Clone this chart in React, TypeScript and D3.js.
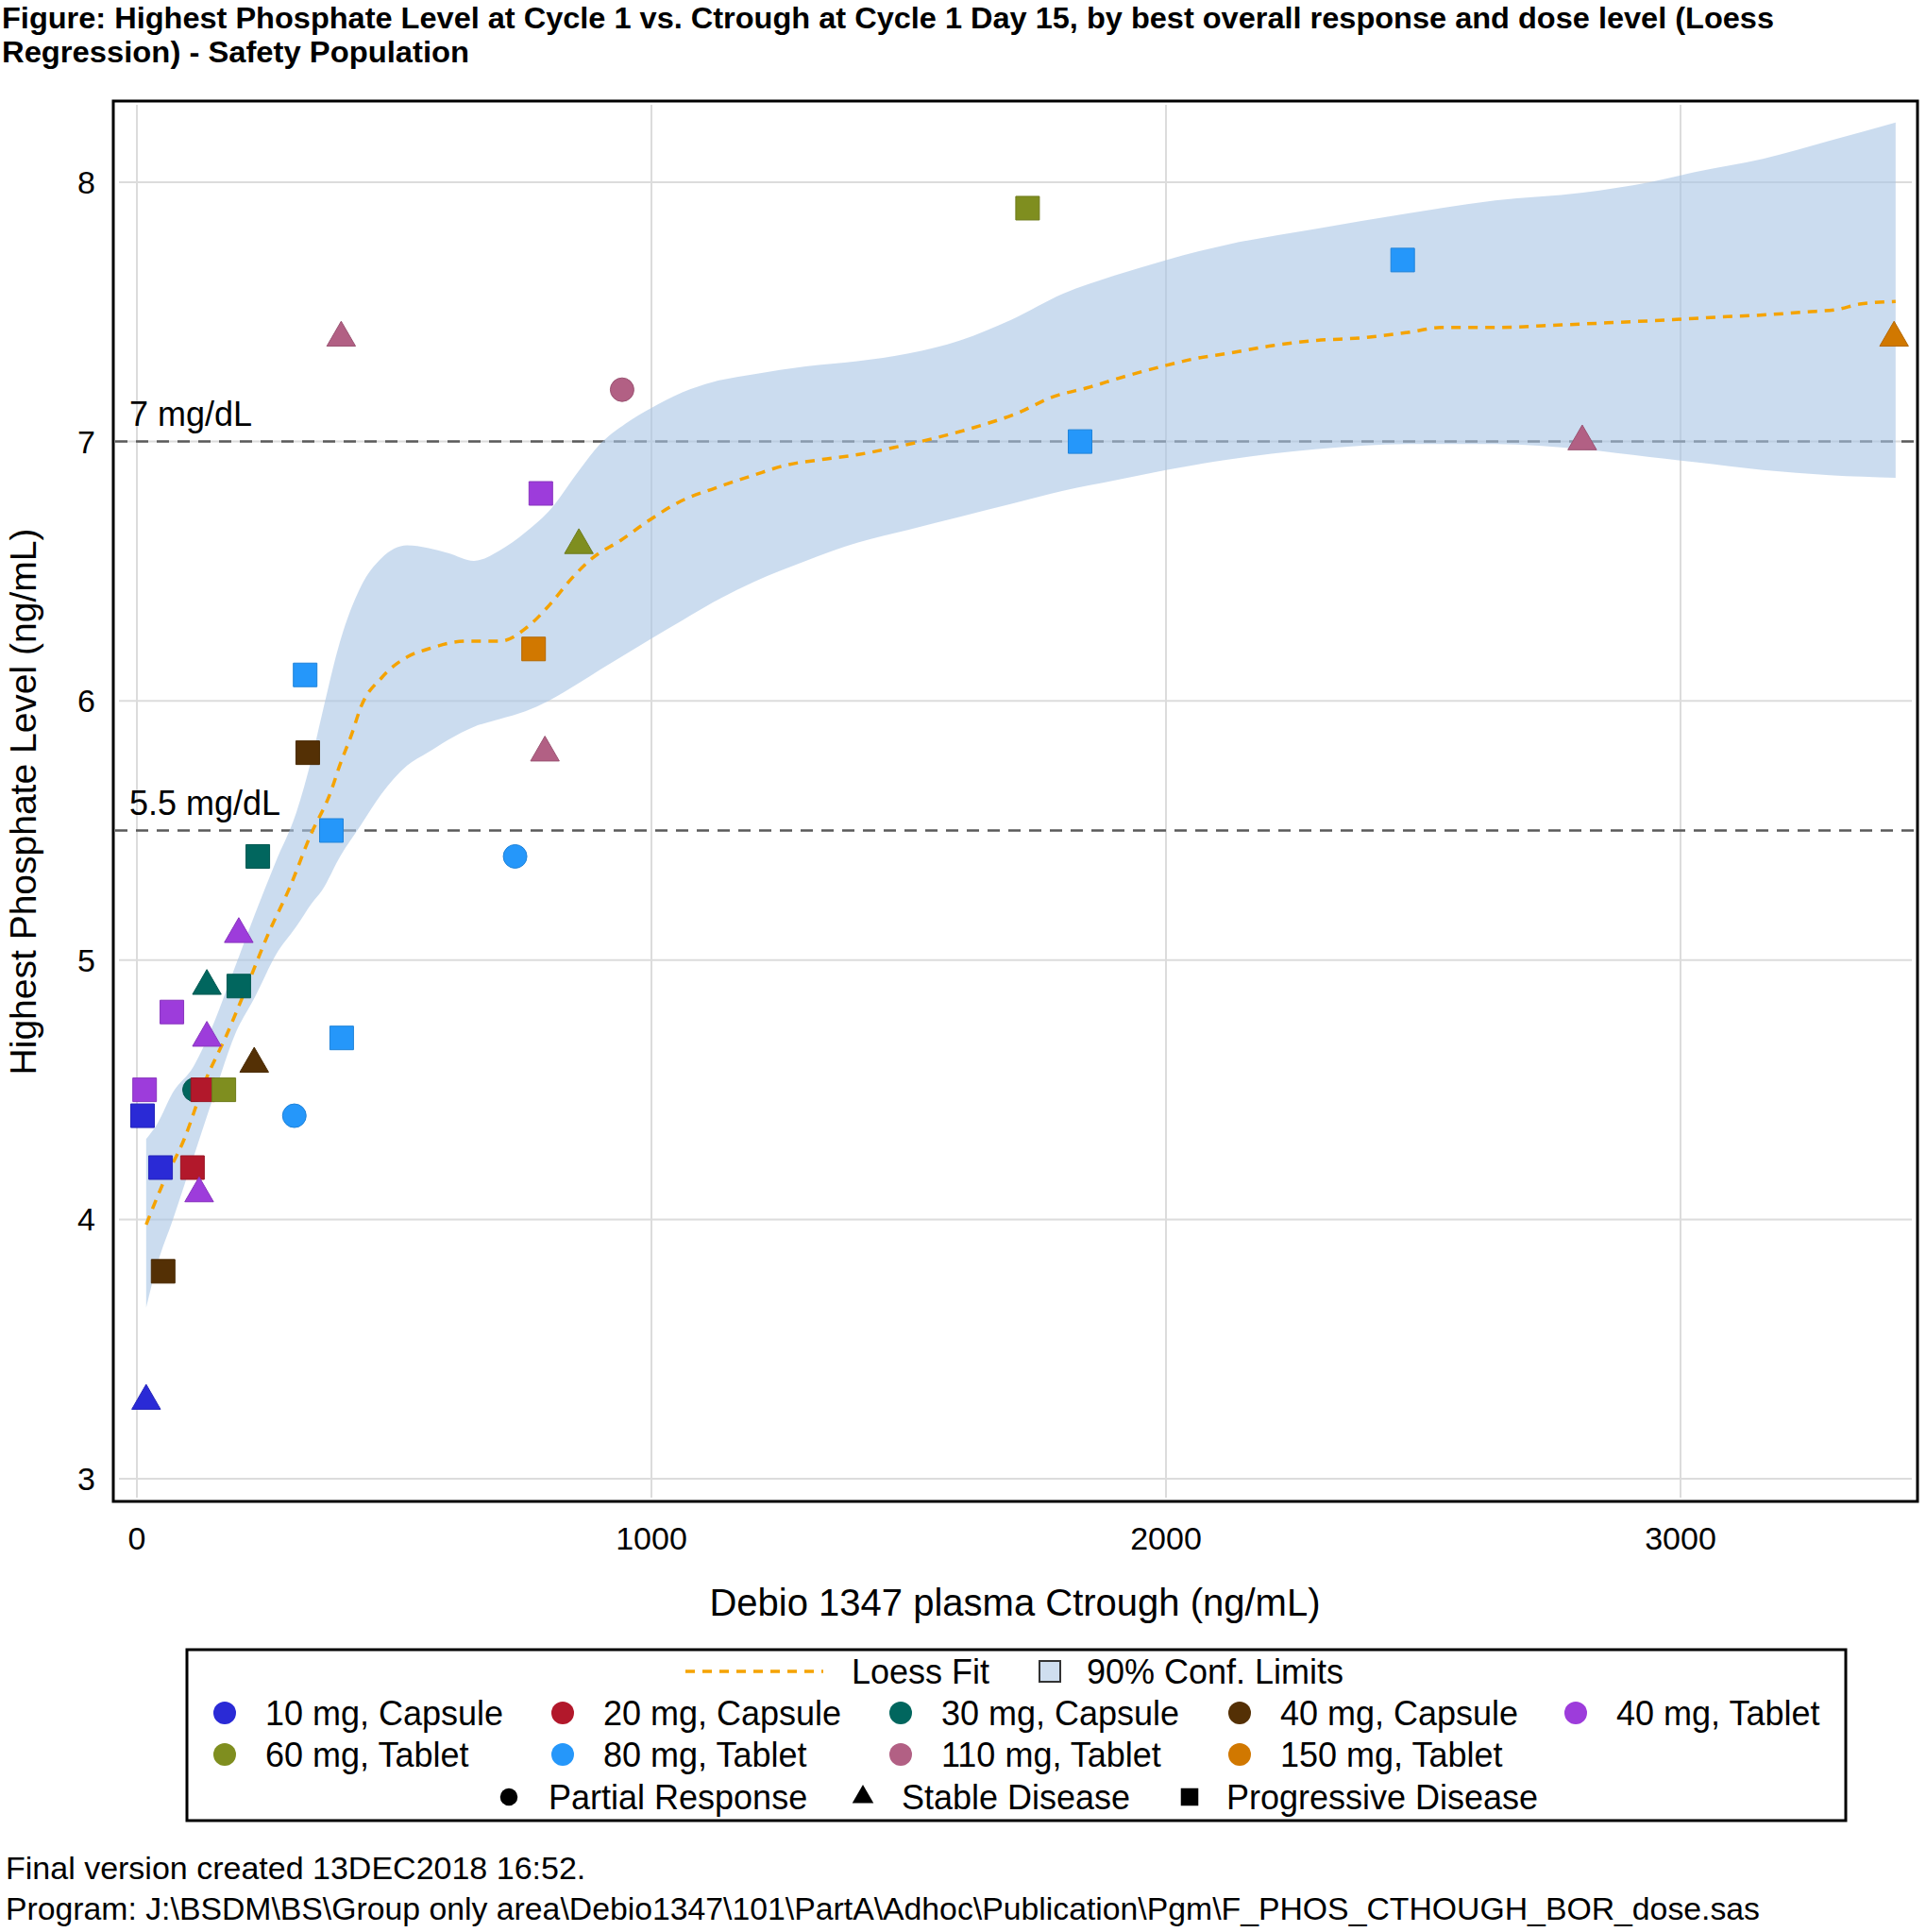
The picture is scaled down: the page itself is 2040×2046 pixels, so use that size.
import React from "react";
import * as d3 from "d3";

// ---------- data ----------
const titleLines = [
  "Figure: Highest Phosphate Level at Cycle 1 vs. Ctrough at Cycle 1 Day 15, by best overall response and dose level (Loess",
  "Regression) - Safety Population",
];
const footerLines = [
  "Final version created 13DEC2018 16:52.",
  "Program: J:\\BSDM\\BS\\Group only area\\Debio1347\\101\\PartA\\Adhoc\\Publication\\Pgm\\F_PHOS_CTHOUGH_BOR_dose.sas",
];
const xTicks = [0, 1000, 2000, 3000];
const yTicks = [3, 4, 5, 6, 7, 8];
const refValues = [7, 5.5];
const refLabels = ["7 mg/dL", "5.5 mg/dL"];

const doseLevels = [
  "10 mg, Capsule", "20 mg, Capsule", "30 mg, Capsule", "40 mg, Capsule", "40 mg, Tablet",
  "60 mg, Tablet", "80 mg, Tablet", "110 mg, Tablet", "150 mg, Tablet",
];
const responses = ["Partial Response", "Stable Disease", "Progressive Disease"];

// points (draw order)
const ctrough = [18, 11, 46, 15, 68, 112, 128, 108, 169, 136, 198, 235, 51, 228, 332, 121, 136, 198,
  306, 327, 378, 398, 735, 785, 859, 771, 793, 397, 943, 1731, 1833, 2460, 2809, 3415];
const phosphate = [3.3, 4.4, 4.2, 4.5, 4.8, 4.5, 4.5, 4.2, 4.5, 4.9, 4.9, 5.4, 3.8, 4.6, 5.8, 4.1, 4.7, 5.1,
  4.4, 6.1, 5.5, 4.7, 5.4, 6.8, 6.6, 6.2, 5.8, 7.4, 7.2, 7.9, 7.0, 7.7, 7.0, 7.4];
const pointDose = [0, 0, 0, 4, 4, 2, 1, 1, 5, 2, 2, 2, 3, 3, 3, 4, 4, 4,
  6, 6, 6, 6, 6, 4, 5, 8, 7, 7, 7, 5, 6, 6, 7, 8];
const pointResp = [1, 2, 2, 2, 2, 0, 2, 2, 2, 1, 2, 2, 2, 1, 2, 1, 1, 1,
  0, 2, 2, 2, 0, 2, 1, 2, 1, 1, 0, 2, 2, 2, 1, 1];

// loess fit
const loessX = [18, 51, 92, 132, 174, 214, 255, 297, 337, 377, 394, 419, 434, 476, 526, 566, 639, 705, 762,
  802, 844, 885, 941, 991, 1057, 1123, 1198, 1264, 1328, 1403, 1478, 1544, 1637, 1712, 1777, 1852, 1918,
  1993, 2057, 2121, 2207, 2293, 2381, 2467, 2537, 2639, 2769, 2881, 2985, 3071, 3176, 3244, 3306, 3348, 3418];
const loessY = [3.98, 4.14, 4.31, 4.53, 4.71, 4.90, 5.10, 5.28, 5.48, 5.65, 5.75, 5.88, 5.97, 6.09, 6.17, 6.20,
  6.23, 6.23, 6.29, 6.37, 6.47, 6.55, 6.62, 6.69, 6.77, 6.82, 6.87, 6.91, 6.93, 6.95, 6.98, 7.01, 7.06, 7.11,
  7.17, 7.21, 7.25, 7.29, 7.32, 7.34, 7.37, 7.39, 7.40, 7.42, 7.44, 7.44, 7.45, 7.46, 7.47, 7.48, 7.49, 7.50,
  7.51, 7.53, 7.54];

// 90% confidence limits
const ciX = [18, 40, 70, 110, 150, 190, 230, 270, 310, 340, 360, 395, 435, 475, 525, 565, 605, 655, 705, 755,
  800, 860, 900, 950, 1000, 1060, 1120, 1200, 1300, 1400, 1500, 1600, 1700, 1800, 1900, 2000, 2120, 2290,
  2470, 2640, 2810, 2940, 3030, 3160, 3290, 3418];
const ciUpper = [4.31, 4.37, 4.49, 4.59, 4.76, 4.97, 5.18, 5.38, 5.57, 5.78, 5.95, 6.23, 6.44, 6.55, 6.60,
  6.59, 6.57, 6.54, 6.58, 6.65, 6.73, 6.89, 6.99, 7.07, 7.13, 7.19, 7.23, 7.26, 7.29, 7.31, 7.34, 7.39, 7.47,
  7.57, 7.64, 7.70, 7.76, 7.82, 7.88, 7.93, 7.96, 8.00, 8.04, 8.09, 8.16, 8.23];
const ciLower = [3.66, 3.83, 4.0, 4.24, 4.48, 4.71, 4.86, 5.02, 5.13, 5.22, 5.27, 5.40, 5.52, 5.64, 5.75,
  5.80, 5.85, 5.90, 5.93, 5.96, 6.0, 6.07, 6.12, 6.18, 6.24, 6.31, 6.38, 6.46, 6.54, 6.61, 6.66, 6.71, 6.76,
  6.81, 6.85, 6.89, 6.93, 6.97, 6.99, 6.99, 6.97, 6.94, 6.92, 6.89, 6.87, 6.86];

// ---------- styles ----------
const doseColors = ["#2a2ad6", "#b2182b", "#01665e", "#543005", "#9d3cdb", "#7f8e1f", "#2597fa", "#b26084", "#d17800"];
const FONT = "'Liberation Sans', Arial, Helvetica, sans-serif";
const W = 2040, H = 2046;
const frame = { left: 120, top: 107, right: 2031, bottom: 1590 };

export default function App() {
  const x = d3.scaleLinear().domain([0, 3000]).range([145, 1780]);
  const y = d3.scaleLinear().domain([3, 8]).range([1566, 193]);

  const symType = [d3.symbolCircle, d3.symbolTriangle, d3.symbolSquare];
  const symSize = [491, 400, 625];
  const sym = (r: number, scale = 1) => d3.symbol().type(symType[r]).size(symSize[r] * scale)()!;

  const band = d3.area<number>()
    .x((_, i) => x(ciX[i]))
    .y0((_, i) => y(ciLower[i]))
    .y1((_, i) => y(ciUpper[i]))
    .curve(d3.curveMonotoneX)(ciX)!;
  const loess = d3.line<number>()
    .x((_, i) => x(loessX[i]))
    .y((_, i) => y(loessY[i]))
    .curve(d3.curveMonotoneX)(loessX)!;

  const legRowY = [1770, 1814, 1858, 1903];
  const legColX = [238, 596, 954, 1313, 1669];
  const respLegX = [539, 914, 1260];
  const respTextX = [581, 955, 1299];

  return (
    <svg width={W} height={H} style={{ position: "absolute", left: 0, top: 0, display: "block", background: "#fff" }}
      fontFamily={FONT}>
      <rect x={0} y={0} width={W} height={H} fill="#fff" />
      {/* title */}
      <text x={2} y={30} fontSize={31} fontWeight="bold" textLength={1877} lengthAdjust="spacingAndGlyphs">{titleLines[0]}</text>
      <text x={2} y={66} fontSize={31} fontWeight="bold" textLength={495} lengthAdjust="spacingAndGlyphs">{titleLines[1]}</text>

      {/* gridlines */}
      <g stroke="#dcdcdc" strokeWidth={2}>
        {xTicks.map((t) => (
          <line key={"gx" + t} x1={x(t)} x2={x(t)} y1={frame.top + 4} y2={frame.bottom - 4} />
        ))}
        {yTicks.map((t) => (
          <line key={"gy" + t} x1={frame.left + 6} x2={frame.right - 6} y1={y(t)} y2={y(t)} />
        ))}
      </g>

      {/* reference lines */}
      {refValues.map((v, i) => (
        <g key={"ref" + i}>
          <line x1={frame.left + 2} x2={frame.right - 2} y1={y(v)} y2={y(v)} stroke="#5a5a5a" strokeWidth={2.5} strokeDasharray="13,9" />
          <text x={137} y={y(v) - 17} fontSize={36} fill="#000">{refLabels[i]}</text>
        </g>
      ))}

      {/* confidence band */}
      <path d={band} fill="#a9c4e4" fillOpacity={0.6} />

      {/* loess */}
      <path d={loess} fill="none" stroke="#f5a300" strokeWidth={3.5} strokeDasharray="10,8" />

      {/* points */}
      {ctrough.map((cx, i) => {
        const c = doseColors[pointDose[i]];
        return (
          <path key={"p" + i} d={sym(pointResp[i])} transform={`translate(${x(cx)},${y(phosphate[i])})`}
            fill={c} stroke={d3.color(c)!.darker(0.4).formatHex()} strokeWidth={1} />
        );
      })}

      {/* frame */}
      <rect x={frame.left} y={frame.top} width={frame.right - frame.left} height={frame.bottom - frame.top}
        fill="none" stroke="#000" strokeWidth={3} />

      {/* tick labels */}
      {xTicks.map((t) => (
        <text key={"tx" + t} x={x(t)} y={1641} fontSize={34} textAnchor="middle">{t}</text>
      ))}
      {yTicks.map((t) => (
        <text key={"ty" + t} x={101} y={y(t) + 12} fontSize={34} textAnchor="end">{t}</text>
      ))}

      {/* axis labels */}
      <text x={1075} y={1711} fontSize={40} textAnchor="middle">Debio 1347 plasma Ctrough (ng/mL)</text>
      <text transform="translate(38,849) rotate(-90)" fontSize={39} textAnchor="middle">Highest Phosphate Level (ng/mL)</text>

      {/* legend */}
      <rect x={198} y={1747} width={1757} height={181} fill="#fff" stroke="#000" strokeWidth={3} />
      <line x1={726} x2={872} y1={legRowY[0]} y2={legRowY[0]} stroke="#f5a300" strokeWidth={3.5} strokeDasharray="10,8" />
      <text x={902} y={legRowY[0] + 13} fontSize={36}>Loess Fit</text>
      <rect x={1101} y={legRowY[0] - 11} width={22} height={22} fill="#cfdeef" stroke="#333" strokeWidth={2} />
      <text x={1151} y={legRowY[0] + 13} fontSize={36}>90% Conf. Limits</text>
      {doseLevels.map((lab, i) => {
        const row = i < 5 ? 1 : 2;
        const col = i < 5 ? i : i - 5;
        const cy = legRowY[row];
        return (
          <g key={"ld" + i}>
            <circle cx={legColX[col]} cy={cy} r={12} fill={doseColors[i]} />
            <text x={legColX[col] + 43} y={cy + 13} fontSize={36}>{lab}</text>
          </g>
        );
      })}
      {responses.map((lab, i) => (
        <g key={"lr" + i}>
          <path d={sym(i, 0.55)} transform={`translate(${respLegX[i]},${legRowY[3]})`} fill="#000" />
          <text x={respTextX[i]} y={legRowY[3] + 13} fontSize={36}>{lab}</text>
        </g>
      ))}

      {/* footer */}
      <text x={6} y={1990} fontSize={34}>{footerLines[0]}</text>
      <text x={6} y={2033} fontSize={34} textLength={1858} lengthAdjust="spacingAndGlyphs">{footerLines[1]}</text>
    </svg>
  );
}
